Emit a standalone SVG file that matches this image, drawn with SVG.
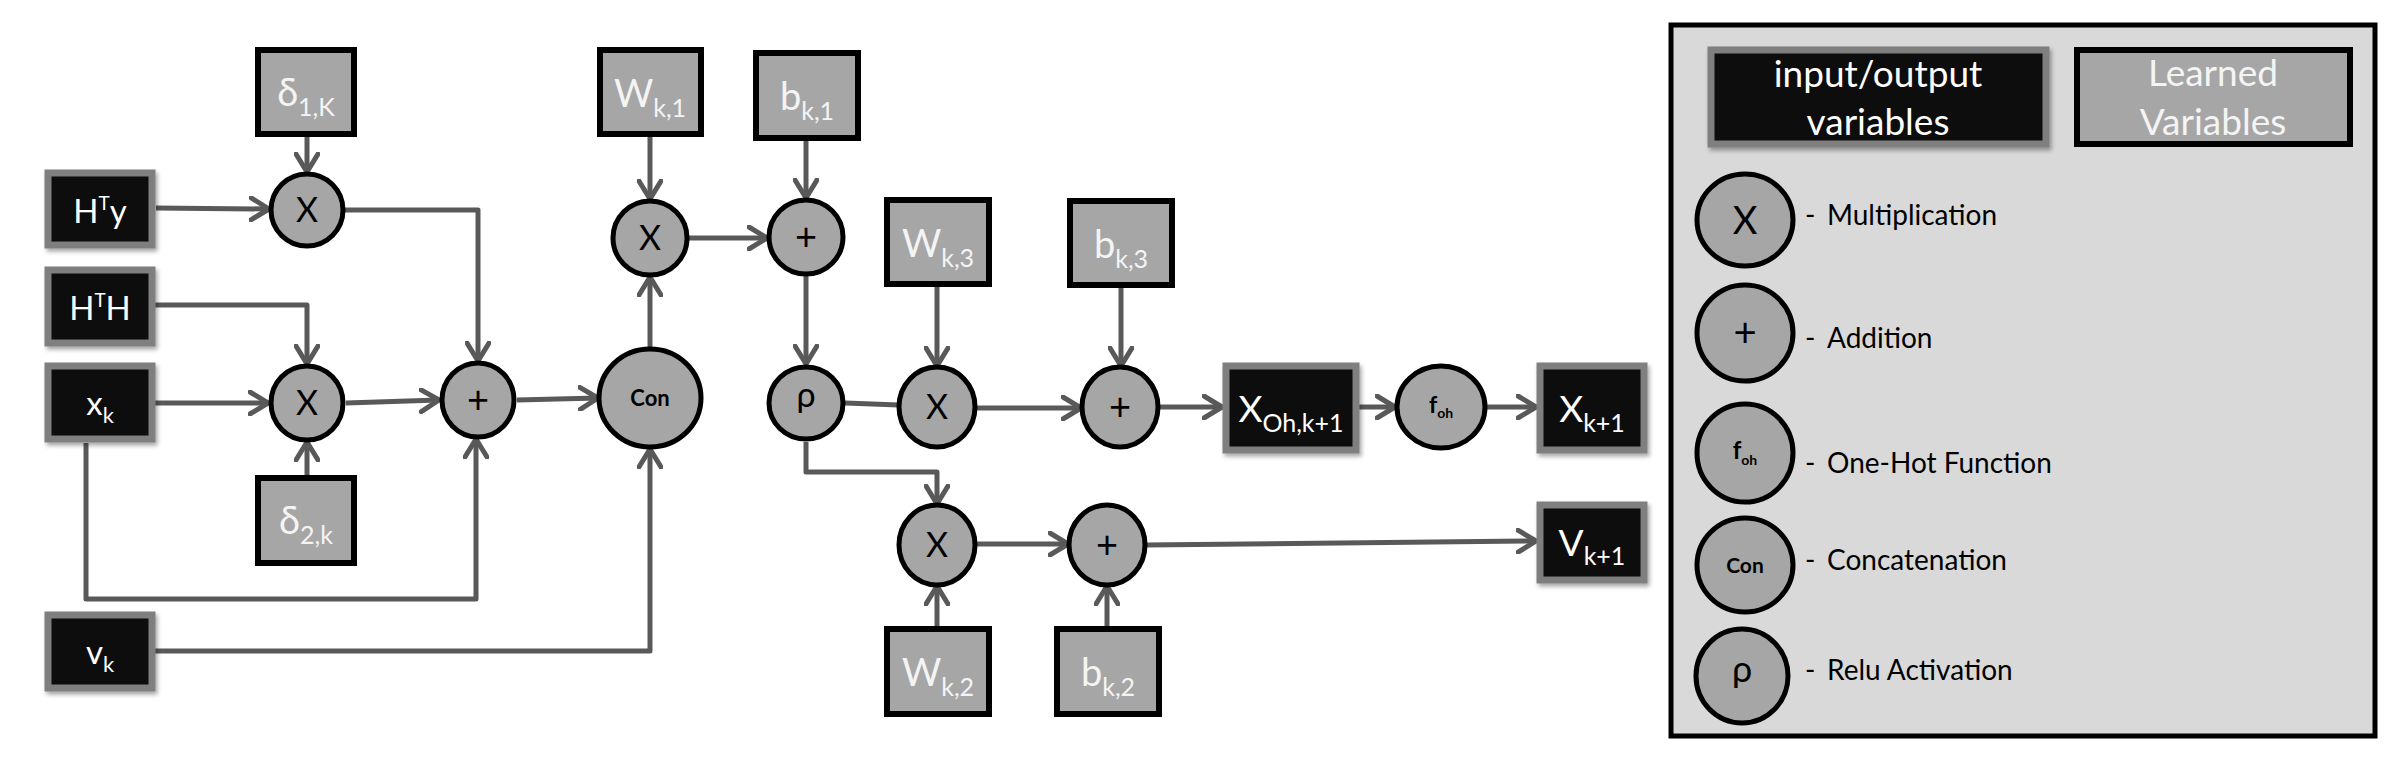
<svg xmlns="http://www.w3.org/2000/svg" width="2398" height="762" viewBox="0 0 2398 762">
<defs>
<marker id="arr" viewBox="0 0 22 26" refX="20" refY="13" markerWidth="22" markerHeight="26" markerUnits="userSpaceOnUse" orient="auto">
<path d="M2,2 L20,13 L2,24" fill="none" stroke="#595959" stroke-width="5" stroke-linecap="round" stroke-linejoin="round"/>
</marker>
<filter id="sh" x="-10%" y="-10%" width="130%" height="130%">
<feDropShadow dx="2" dy="3" stdDeviation="2" flood-color="#000" flood-opacity="0.35"/>
</filter>
</defs>
<style>
.io{fill:#0a0a0a;stroke:#7f7f7f;stroke-width:7;filter:url(#sh)}
.lv{fill:#a6a6a6;stroke:#000;stroke-width:6}
.op{fill:#a6a6a6;stroke:#000;stroke-width:5}
.c{fill:none;stroke:#595959;stroke-width:5;stroke-linejoin:round}
.a{marker-end:url(#arr)}
text{font-family:Lato,"Open Sans","Liberation Sans",sans-serif}
.wt{fill:#fff;text-anchor:middle}
.lt{fill:#f4f4f4;text-anchor:middle}
.bt{fill:#000;text-anchor:middle}
.leg{fill:#000;font-size:28px}
</style>
<rect width="2398" height="762" fill="#fff"/>

<g id="connectors">
<path class="c a" d="M307,137 L307,172"/>
<path class="c a" d="M156,208 L269,209"/>
<path class="c a" d="M345,210 L478,210 L478,361"/>
<path class="c a" d="M155,305 L307,305 L307,364"/>
<path class="c a" d="M155,403 L268,403"/>
<path class="c a" d="M307,475 L307,442"/>
<path class="c a" d="M346,403 L439,400"/>
<path class="c a" d="M86,443 L86,599 L476,599 L476,439"/>
<path class="c a" d="M517,400 L598,398"/>
<path class="c a" d="M155,651 L650,651 L650,449"/>
<path class="c a" d="M650,347 L650,277"/>
<path class="c a" d="M650,137 L650,199"/>
<path class="c a" d="M689,238 L767,238"/>
<path class="c a" d="M806,141 L806,198"/>
<path class="c a" d="M806,276 L806,364"/>
<path class="c" d="M845,403 L899,405"/>
<path class="c a" d="M937,287 L937,366"/>
<path class="c a" d="M977,408 L1081,408"/>
<path class="c a" d="M1121,288 L1121,366"/>
<path class="c a" d="M1160,407 L1222,407"/>
<path class="c a" d="M1359,407 L1395,407"/>
<path class="c a" d="M1487,407 L1536,407"/>
<path class="c a" d="M806,442 L806,472 L937,472 L937,504"/>
<path class="c a" d="M976,544 L1068,544"/>
<path class="c a" d="M937,626 L937,586"/>
<path class="c a" d="M1107,626 L1107,586"/>
<path class="c a" d="M1146,545 L1536,541"/>
</g>

<g id="HTy"><rect class="io" x="48" y="173" width="104" height="72"/><text class="wt" x="100" y="223" font-size="33">H<tspan font-size="19" dy="-13">T</tspan><tspan dy="13">y</tspan></text></g>
<g id="HTH"><rect class="io" x="48" y="270" width="104" height="73"/><text class="wt" x="100" y="320" font-size="33">H<tspan font-size="19" dy="-13">T</tspan><tspan dy="13">H</tspan></text></g>
<g id="xk"><rect class="io" x="48" y="366" width="104" height="73"/><text class="wt" x="100" y="415" font-size="33">x<tspan font-size="22" dy="8">k</tspan></text></g>
<g id="vk"><rect class="io" x="48" y="615" width="104" height="73"/><text class="wt" x="100" y="664" font-size="33">v<tspan font-size="22" dy="8">k</tspan></text></g>

<g id="d1"><rect class="lv" x="258" y="50" width="96" height="84"/><text class="lt" x="306" y="106" font-size="38">δ<tspan font-size="25" dy="10">1,K</tspan></text></g>
<g id="d2"><rect class="lv" x="258" y="478" width="96" height="85"/><text class="lt" x="306" y="534" font-size="38">δ<tspan font-size="25" dy="10">2,k</tspan></text></g>
<g id="Wk1"><rect class="lv" x="600" y="50" width="101" height="84"/><text class="lt" x="650" y="107" font-size="38">W<tspan font-size="25" dy="10">k,1</tspan></text></g>
<g id="bk1"><rect class="lv" x="756" y="53" width="102" height="85"/><text class="lt" x="807" y="110" font-size="38">b<tspan font-size="25" dy="10">k,1</tspan></text></g>
<g id="Wk3"><rect class="lv" x="887" y="200" width="102" height="84"/><text class="lt" x="938" y="257" font-size="38">W<tspan font-size="25" dy="10">k,3</tspan></text></g>
<g id="bk3"><rect class="lv" x="1070" y="201" width="102" height="84"/><text class="lt" x="1121" y="258" font-size="38">b<tspan font-size="25" dy="10">k,3</tspan></text></g>
<g id="Wk2"><rect class="lv" x="887" y="629" width="102" height="85"/><text class="lt" x="938" y="686" font-size="38">W<tspan font-size="25" dy="10">k,2</tspan></text></g>
<g id="bk2"><rect class="lv" x="1057" y="629" width="102" height="85"/><text class="lt" x="1108" y="686" font-size="38">b<tspan font-size="25" dy="10">k,2</tspan></text></g>

<g id="m1"><ellipse class="op" cx="307" cy="210" rx="36" ry="36"/><text class="bt" x="307" y="222" font-size="34">X</text></g>
<g id="m2"><ellipse class="op" cx="307" cy="403" rx="36" ry="37"/><text class="bt" x="307" y="415" font-size="34">X</text></g>
<g id="a1"><ellipse class="op" cx="478" cy="400" rx="36" ry="37"/><text class="bt" x="478" y="413" font-size="38">+</text></g>
<g id="con"><ellipse class="op" cx="650" cy="398" rx="51" ry="49"/><text class="bt" x="650" y="406" font-size="22" font-weight="bold">Con</text></g>
<g id="m3"><ellipse class="op" cx="650" cy="238" rx="37" ry="37"/><text class="bt" x="650" y="250" font-size="34">X</text></g>
<g id="a2"><ellipse class="op" cx="806" cy="237" rx="37" ry="37"/><text class="bt" x="806" y="250" font-size="38">+</text></g>
<g id="rho"><ellipse class="op" cx="806" cy="403" rx="37" ry="36"/><text class="bt" x="806" y="407" font-size="34">ρ</text></g>
<g id="m4"><ellipse class="op" cx="937" cy="407" rx="38" ry="40"/><text class="bt" x="937" y="419" font-size="34">X</text></g>
<g id="a3"><ellipse class="op" cx="1120" cy="407" rx="38" ry="40"/><text class="bt" x="1120" y="420" font-size="38">+</text></g>
<g id="m5"><ellipse class="op" cx="937" cy="545" rx="38" ry="40"/><text class="bt" x="937" y="557" font-size="34">X</text></g>
<g id="a4"><ellipse class="op" cx="1107" cy="545" rx="38" ry="40"/><text class="bt" x="1107" y="558" font-size="38">+</text></g>
<g id="foh"><ellipse class="op" cx="1441" cy="407" rx="44" ry="41"/><text class="bt" x="1441" y="413" font-size="23" font-weight="bold">f<tspan font-size="14" dy="5">oh</tspan></text></g>

<g id="XOh"><rect class="io" x="1226" y="366" width="130" height="84"/><text class="wt" x="1291" y="422" font-size="37">X<tspan font-size="25" dy="10">Oh,k+1</tspan></text></g>
<g id="Xk1"><rect class="io" x="1540" y="366" width="104" height="84"/><text class="wt" x="1592" y="422" font-size="37">X<tspan font-size="25" dy="10">k+1</tspan></text></g>
<g id="Vk1"><rect class="io" x="1540" y="505" width="104" height="75"/><text class="wt" x="1592" y="556" font-size="37">V<tspan font-size="25" dy="9">k+1</tspan></text></g>

<g id="legend">
<rect x="1671" y="25" width="704" height="711" fill="#d9d9d9" stroke="#000" stroke-width="5"/>
<g id="leg-io"><rect class="io" x="1711" y="50" width="335" height="94"/><text class="wt" x="1878" y="87" font-size="37">input/output</text><text class="wt" x="1878" y="135" font-size="37">variables</text></g>
<g id="leg-lv"><rect class="lv" x="2077" y="50" width="273" height="94"/><text class="lt" x="2213" y="86" font-size="37">Learned</text><text class="lt" x="2213" y="135" font-size="37">Variables</text></g>
<g id="leg-m"><ellipse class="op" cx="1745" cy="220" rx="48" ry="46"/><text class="bt" x="1745" y="234" font-size="38">X</text><text class="leg" x="1805" y="225">-<tspan x="1827">Multiplication</tspan></text></g>
<g id="leg-a"><ellipse class="op" cx="1745" cy="333" rx="48" ry="48"/><text class="bt" x="1745" y="347" font-size="40">+</text><text class="leg" x="1805" y="348">-<tspan x="1827">Addition</tspan></text></g>
<g id="leg-f"><ellipse class="op" cx="1745" cy="453" rx="48" ry="49"/><text class="bt" x="1745" y="459" font-size="24" font-weight="bold">f<tspan font-size="14" dy="6">oh</tspan></text><text class="leg" x="1805" y="473">-<tspan x="1827">One-Hot Function</tspan></text></g>
<g id="leg-c"><ellipse class="op" cx="1745" cy="565" rx="48" ry="47"/><text class="bt" x="1745" y="573" font-size="21" font-weight="bold">Con</text><text class="leg" x="1805" y="570">-<tspan x="1827">Concatenation</tspan></text></g>
<g id="leg-r"><ellipse class="op" cx="1742" cy="676" rx="46" ry="47"/><text class="bt" x="1742" y="682" font-size="36">ρ</text><text class="leg" x="1805" y="680">-<tspan x="1827">Relu Activation</tspan></text></g>
</g>
</svg>
